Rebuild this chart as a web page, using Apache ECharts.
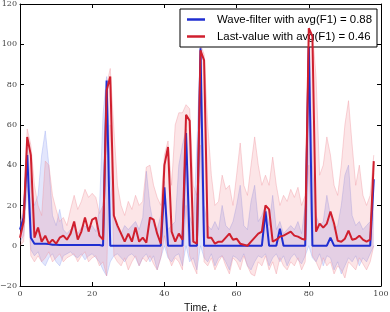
<!DOCTYPE html>
<html><head><meta charset="utf-8">
<script src="https://cdn.jsdelivr.net/npm/echarts@6/dist/echarts.min.js"></script>
<style>html,body{margin:0;padding:0;background:#fff}#c{width:390px;height:312px}</style>
</head><body><div id="c"></div>
<script>
const xTicks = [0, 20, 40, 60, 80, 100];
const yTicks = [-20, 0, 20, 40, 60, 80, 100, 120];
const names = ['Wave-filter with avg(F1) = 0.88', 'Last-value with avg(F1) = 0.46'];
const T = Array.from({length: 99}, (_, i) => i);
const waveFilter = [8,14,45,4,1,1,1,1,0.8,0.5,0.5,0.3,0.3,0.3,0.3,0.3,0.3,0.3,0.3,0.3,0.3,0.3,0.3,0,82,0,0,0,0,0,0,0,0,0,0,0,0,0,0,0,29,0,0,0,0,0,56,0,0,0,98,0,0,0,0,0,0,0,0,0,0,0,0,0,0,0,0,0,17,0,0,0,8.5,0,0,0,0,0,0,0,101,0,0,0,0,0,4,0,0,0,0,0,0,0,0,0,0,0,33];
const lastValue = [4,12,54,45,4,9,2,5,1,3,1,4,5,3,6,12,3,7,14,7,13,14,5,3,77,84,15,10,6,2,6,2,9,2,4,1.5,14,13,6,1,40,49,7,2,6,3,65,62,2,1,97,92,4,4,1,2,2,4,6,3,3.5,1,0.5,0,2,4,6,7,20,18,2,3,4.5,5,6,7,5,4.5,3.5,3,108,104,7,11,9,11,17,11,2.5,2,3.5,7.5,3,3.5,5,3,2,3,42];
const lastUpper = [10,20,58,50,30,20,15,42,40,25,18,12,14,10,18,25,18,22,28,24,26,24,16,20,80,88,58,30,20,15,22,18,25,20,22,39,40,30,24,20,45,52,30,60,66,66,70,68,30,25,100,95,60,35,20,22,35,28,30,20,35,51,30,25,40,54,40,30,35,30,44,30,20,25,22,28,24,29,20,25,110,106,84,35,40,54,45,30,25,40,60,72,50,30,40,25,20,25,45];
const lastLower = [0,2,35,-5,-8,-5,-8,-6,-3,-8,-6,-4,-8,-6,-5,-4,-8,-5,-3,-8,-6,-5,-10,-8,-15,60,-5,-8,-10,-6,-12,-8,-5,-10,-6,-8,-5,-9,-12,-6,5,-5,-10,-6,-8,-12,20,-5,-10,-14,50,-8,-10,-6,-12,-8,-5,-10,-14,-6,-8,-12,-5,-10,-14,-15,-8,-10,-5,-12,-8,-14,-6,-10,-12,-8,-10,-6,-12,-8,40,-5,-8,-12,-6,-10,-8,-14,-10,-12,-16,-8,-10,-12,-6,-9,-12,-8,0];
const waveUpper = [12,16,50,30,20,25,45,57,40,15,10,18,8,6,8,10,6,9,10,8,10,7,18,65,84,35,15,8,6,10,8,10,12,8,14,37,20,10,8,15,32,8,10,12,40,50,58,15,8,50,100,20,10,8,12,8,20,10,8,12,20,30,10,8,22,30,12,15,20,10,25,8,12,6,8,10,8,12,6,20,103,40,15,10,12,25,15,8,10,20,35,40,15,10,12,8,10,12,36];
const waveLower = [2,5,30,-2,-5,-3,-8,-10,-6,-4,-8,-10,-5,-4,-3,-5,-6,-4,-7,-5,-4,-6,-8,-12,-15,-8,-5,-4,-6,-8,-5,-4,-6,-10,-6,-4,-8,-5,-12,-6,0,-6,-8,-5,-4,-10,0,-8,-6,-12,0,-6,-8,-4,-10,-6,-5,-8,-12,-5,-6,-8,-4,-10,-12,-8,-5,-6,-4,-10,-6,-4,-8,-5,-10,-6,-4,-7,-9,-5,0,-6,-8,-4,-10,-5,-6,-12,-8,-14,-10,-6,-8,-5,-10,-6,-8,-4,0];

function band(lo, hi, fill, stroke) {
  return {
    type: 'custom', silent: true, z: 1, clip: true,
    encode: {x: 0, y: [1, 2]},
    data: T.map((t, i) => [t, lo[i], hi[i]]),
    renderItem: function (params, api) {
      if (params.dataIndex !== 0) return null;
      const top = [], bot = [];
      for (let i = 0; i < T.length; i++) top.push(api.coord([T[i], hi[i]]));
      for (let i = T.length - 1; i >= 0; i--) bot.push(api.coord([T[i], lo[i]]));
      return {type: 'group', children: [
        {type: 'polygon', shape: {points: top.concat(bot)}, style: {fill: fill}},
        {type: 'polyline', shape: {points: top}, style: {stroke: stroke, fill: 'none', lineWidth: 1}},
        {type: 'polyline', shape: {points: bot}, style: {stroke: stroke, fill: 'none', lineWidth: 1}}
      ]};
    }
  };
}
const serif = 'DejaVu Serif';
const fmt = v => String(v).replace('-', '\u2212');
const chart = echarts.init(document.getElementById('c'), null, {renderer: 'canvas'});
chart.setOption({
  animation: false,
  backgroundColor: '#fff',
  grid: {left: 20, right: 9, top: 4, bottom: 26, containLabel: false, outerBoundsMode: 'none'},
  xAxis: [{
    type: 'value', min: 0, max: 100, interval: 20,
    name: '{a|Time, }{b|t}', nameLocation: 'middle', nameGap: 13,
    nameTextStyle: {rich: {a: {fontFamily: 'Liberation Sans', fontSize: 10.5, color: '#111'}, b: {fontFamily: serif, fontStyle: 'italic', fontSize: 10, color: '#111'}}},
    axisLine: {onZero: false, lineStyle: {color: '#000', width: 1}},
    axisTick: {inside: true, length: 4, lineStyle: {color: '#000'}},
    axisLabel: {fontFamily: serif, fontSize: 8, color: '#444', margin: 4, formatter: fmt},
    splitLine: {show: false}
  }, {
    type: 'value', position: 'top', min: 0, max: 100, interval: 20,
    axisLine: {show: true, onZero: false, lineStyle: {color: '#000'}},
    axisTick: {inside: true, length: 4, lineStyle: {color: '#000'}},
    axisLabel: {show: false}, splitLine: {show: false}
  }],
  yAxis: [{
    type: 'value', min: -20, max: 120, interval: 20,
    axisLine: {show: true, onZero: false, lineStyle: {color: '#000'}},
    axisTick: {show: true, inside: true, length: 4, lineStyle: {color: '#000'}},
    axisLabel: {fontFamily: serif, fontSize: 8, color: '#444', margin: 3, formatter: fmt},
    splitLine: {show: false}
  }, {
    type: 'value', position: 'right', min: -20, max: 120, interval: 20,
    axisLine: {show: true, onZero: false, lineStyle: {color: '#000'}},
    axisTick: {show: true, inside: true, length: 4, lineStyle: {color: '#000'}},
    axisLabel: {show: false}, splitLine: {show: false}
  }],
  legend: {
    data: [{name: names[0], icon: 'rect'}, {name: names[1], icon: 'rect'}],
    orient: 'vertical', left: 180, top: 9,
    backgroundColor: '#fff', borderColor: '#000', borderWidth: 1, borderRadius: 0,
    padding: [4, 5, 4, 7], itemWidth: 18, itemHeight: 2.5, itemGap: 4,
    textStyle: {fontFamily: 'Liberation Sans', fontSize: 11.4, color: '#000', padding: [0, 0, 0, 7], lineHeight: 13}
  },
  series: [
    band(waveLower, waveUpper, 'rgba(80,100,235,0.16)', 'rgba(130,150,240,0.30)'),
    band(lastLower, lastUpper, 'rgba(235,80,95,0.15)', 'rgba(240,150,160,0.40)'),
    {name: names[0], type: 'line', data: T.map((t, i) => [t, waveFilter[i]]), showSymbol: false, z: 3,
     lineStyle: {color: '#1f2ed1', width: 2}, itemStyle: {color: '#1f2ed1'}},
    {name: names[1], type: 'line', data: T.map((t, i) => [t, lastValue[i]]), showSymbol: false, z: 4,
     lineStyle: {color: '#d01f2e', width: 2}, itemStyle: {color: '#d01f2e'}}
  ]
});
</script></body></html>
